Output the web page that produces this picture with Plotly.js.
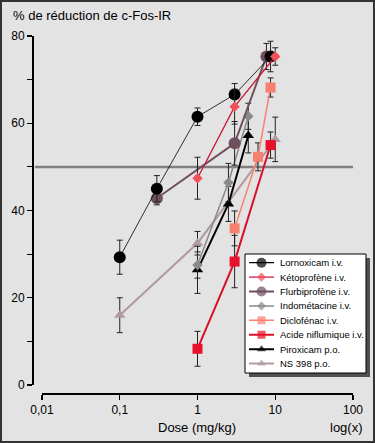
<!DOCTYPE html>
<html><head><meta charset="utf-8">
<script src="https://cdn.plot.ly/plotly-3.0.1.min.js"></script>
<style>html,body{margin:0;padding:0;background:#e3e3e3}#chart{width:375px;height:443px}</style>
</head><body><div id="chart"></div>
<script>
// ---- Data ----
const seriesNames = ['Lornoxicam i.v.', 'Kétoprofène i.v.', 'Flurbiprofène i.v.', 'Indométacine i.v.',
  'Diclofénac i.v.', 'Acide niflumique i.v.', 'Piroxicam p.o.', 'NS 398 p.o.'];

const lornoxDose = [0.1, 0.3, 1, 3, 8.7];
const lornoxVal  = [29.3, 45, 61.5, 66.6, 75.3];
const lornoxErr  = [3.9, 3, 2, 2.5, 3.5];

const ketoDose = [1, 3, 10];
const ketoVal  = [47.4, 63.8, 75.3];
const ketoErr  = [4.8, 4, 2];

const flurbiDose = [0.3, 3, 7.7];
const flurbiVal  = [42.8, 55.4, 75.3];
const flurbiErr  = [1.5, 5, 3];

const indoDose = [1, 2.5, 4.5];
const indoVal  = [27.5, 46.4, 61.6];
const indoErr  = [3, 4.4, 3];

const dicloDose = [3, 6, 8.7];
const dicloVal  = [35.9, 52.3, 68.2];
const dicloErr  = [4, 3.2, 2.2];

const nifluDose = [1, 3, 8.7];
const nifluVal  = [8.3, 28.3, 55];
const nifluErr  = [4, 6, 3];

const piroDose = [1, 2.5, 4.5];
const piroVal  = [26.4, 41.5, 57.2];
const piroErr  = [5.4, 4, 4];

const nsDose = [0.1, 1, 10];
const nsVal  = [16, 32.5, 56.3];
const nsErr  = [4, 2.7, 5.1];

const xTickVals = [0.01, 0.1, 1, 10, 100];
const xTickText = ['0,01', '0,1', '1', '10', '100'];
const yTickVals = [0, 10, 20, 30, 40, 50, 60, 70, 80];
const yTickText = ['0', '', '20', '', '40', '', '60', '', '80'];
const threshold = 50;

// ---- Styles ----
const FONT = 'Liberation Sans, Arial, Helvetica, sans-serif';
const styles = [
  {mc: '#000000', sym: 'circle',      ms: 12, lc: '#000000', lw: 0.8},
  {mc: '#f0505a', sym: 'diamond',     ms: 8,  lc: '#c8183c', lw: 1.3},
  {mc: '#6e4f5e', sym: 'circle',      ms: 12, lc: '#6e4f5e', lw: 2},
  {mc: '#8a8a8a', sym: 'diamond',     ms: 8,  lc: '#8a8a8a', lw: 1.5},
  {mc: '#f8806e', sym: 'square',      ms: 10, lc: '#f8806e', lw: 1.5},
  {mc: '#e8102a', sym: 'square',      ms: 10, lc: '#d8102a', lw: 2},
  {mc: '#000000', sym: 'triangle-up', ms: 10, lc: '#000000', lw: 2},
  {mc: '#b09aa2', sym: 'triangle-up', ms: 10, lc: '#b09aa2', lw: 2}
];
const series = [
  [lornoxDose, lornoxVal, lornoxErr], [ketoDose, ketoVal, ketoErr], [flurbiDose, flurbiVal, flurbiErr],
  [indoDose, indoVal, indoErr], [dicloDose, dicloVal, dicloErr], [nifluDose, nifluVal, nifluErr],
  [piroDose, piroVal, piroErr], [nsDose, nsVal, nsErr]
];
// drawing order (last on top)
const drawOrder = [7, 6, 5, 4, 3, 2, 0, 1];

const data = [];
drawOrder.forEach(function (i) {
  const s = series[i], st = styles[i];
  data.push({
    type: 'scatter', mode: 'lines+markers', name: seriesNames[i], x: s[0], y: s[1], showlegend: false,
    marker: {color: st.mc, symbol: st.sym, size: st.ms, line: {width: 0}},
    line: {color: st.lc, width: st.lw},
    error_y: {type: 'data', array: s[2], visible: true, color: '#222', thickness: 1, width: 3}
  });
});
// custom compact legend keys (on a hidden helper axis pair)
const legendAnn = [];
seriesNames.forEach(function (nm, i) {
  const st = styles[i];
  data.push({
    type: 'scatter', mode: 'lines+markers', xaxis: 'x3', yaxis: 'y3', showlegend: false, hoverinfo: 'skip',
    x: [0, 1, 2], y: [i, i, i],
    marker: {color: st.mc, symbol: st.sym, size: [0, Math.max(st.ms - 2, 7), 0], line: {width: 0}},
    line: {color: st.lc, width: Math.max(st.lw, 1.2)}
  });
  legendAnn.push({text: nm, xref: 'x3', yref: 'y3', x: 2, y: i, xanchor: 'left', yanchor: 'middle',
    xshift: 4, showarrow: false, font: {size: 9.5, family: FONT}});
});

const axBase = {showgrid: false, zeroline: false, showline: true, linecolor: '#000', linewidth: 1.5,
  tickcolor: '#000', tickwidth: 1.2, ticklen: 5, anchor: 'free', position: 0};

const PW = 321, PH = 357, ML = 32, MB = 50, MT = 36;
function px2x(p) { return (p - ML) / PW; }
function py2y(p) { return (MT + PH - p) / PH; }

const layout = {
  width: 375, height: 443,
  paper_bgcolor: '#e3e3e3', plot_bgcolor: 'rgba(0,0,0,0)',
  margin: {l: ML, r: 22, t: MT, b: MB, pad: 0, autoexpand: false},
  font: {family: FONT, color: '#000', size: 12},
  showlegend: false,
  xaxis: Object.assign({}, axBase, {type: 'log', range: [-2, 2], domain: [px2x(42), 1],
    tickmode: 'array', tickvals: xTickVals, ticktext: xTickText, ticks: 'outside',
    tickfont: {size: 12}}),
  xaxis2: Object.assign({}, axBase, {type: 'log', range: [-2, 2], overlaying: 'x',
    tickmode: 'array', tickvals: xTickVals, ticks: 'inside', showticklabels: false, showline: false}),
  yaxis: Object.assign({}, axBase, {range: [0, 80], domain: [py2y(385), 1],
    tickmode: 'array', tickvals: yTickVals, ticktext: yTickText, ticks: 'outside',
    tickfont: {size: 12}}),
  yaxis2: Object.assign({}, axBase, {range: [0, 80], overlaying: 'y',
    tickmode: 'array', tickvals: yTickVals, ticks: 'inside', showticklabels: false, showline: false}),
  xaxis3: {domain: [px2x(249), px2x(274)], range: [0, 2], visible: false, anchor: 'y3', fixedrange: true},
  yaxis3: {domain: [py2y(370.8), py2y(255.5)], range: [7.5, -0.5], visible: false, anchor: 'x3', fixedrange: true},
  shapes: [
    {type: 'line', xref: 'paper', yref: 'y', x0: px2x(35), x1: 1, y0: threshold, y1: threshold,
     line: {color: '#808080', width: 2.5}, layer: 'below'},
    {type: 'rect', xref: 'paper', yref: 'paper', x0: px2x(249), x1: px2x(370), y0: py2y(377), y1: py2y(258),
     fillcolor: '#505050', line: {width: 0}, layer: 'below'},
    {type: 'rect', xref: 'paper', yref: 'paper', x0: px2x(245), x1: px2x(366), y0: py2y(373), y1: py2y(254),
     fillcolor: '#ffffff', line: {color: '#000', width: 1}, layer: 'below'},
    {type: 'rect', xref: 'paper', yref: 'paper', x0: px2x(1), x1: px2x(374), y0: py2y(442), y1: py2y(1),
     fillcolor: 'rgba(0,0,0,0)', line: {color: '#333', width: 2}, layer: 'above'}
  ],
  annotations: [
    {text: '% de réduction de c-Fos-IR', xref: 'paper', yref: 'paper', x: px2x(11), y: py2y(16),
     xanchor: 'left', yanchor: 'middle', showarrow: false, font: {size: 13}},
    {text: 'Dose (mg/kg)', xref: 'paper', yref: 'paper', x: px2x(197), y: py2y(427),
     xanchor: 'center', yanchor: 'middle', showarrow: false, font: {size: 13}},
    {text: 'log(x)', xref: 'paper', yref: 'paper', x: px2x(346), y: py2y(427),
     xanchor: 'center', yanchor: 'middle', showarrow: false, font: {size: 13}}
  ].concat(legendAnn)
};

Plotly.newPlot('chart', data, layout, {displayModeBar: false, staticPlot: true});
</script></body></html>
